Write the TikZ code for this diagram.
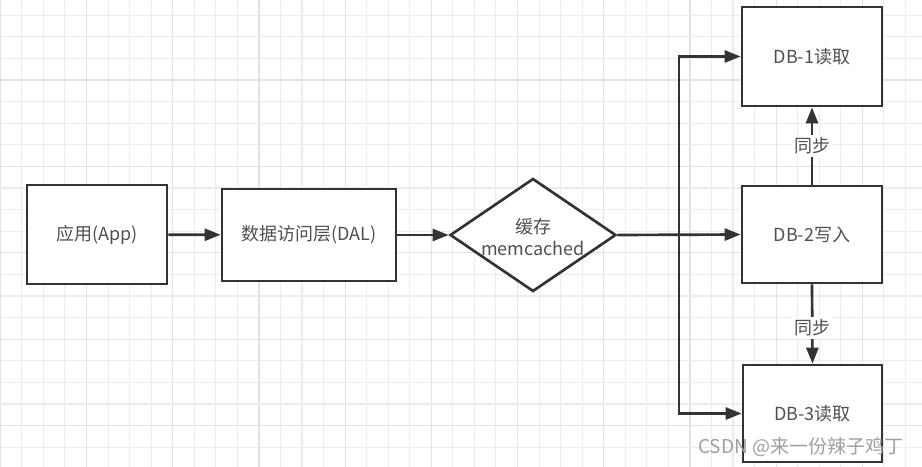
\documentclass[tikz,border=0pt]{standalone}
\usepackage{fontspec}
\setmainfont{Noto Sans CJK SC}
\usetikzlibrary{arrows.meta,shapes.geometric}
\definecolor{linec}{HTML}{333333}
\definecolor{textc}{HTML}{505050}
\definecolor{gridc}{HTML}{ECECEC}
\definecolor{gridm}{HTML}{E2E2E2}
\definecolor{wmc}{HTML}{A0A0A0}
\begin{document}
\begin{tikzpicture}[x=0.75pt,y=-0.75pt,
  txt/.style={text=textc,font=\fontsize{13.5}{17}\selectfont},
  box/.style={draw=linec,line width=2pt,fill=white,inner sep=0pt,txt},
  arr/.style={draw=linec,line width=2pt,-{Triangle[length=12pt,width=9pt]}},
  conn/.style={draw=linec,line width=2pt},
  synclbl/.style={fill=white,inner sep=2pt,txt}]
\useasboundingbox (0,0) rectangle (922,467);
\fill[white] (0,0) rectangle (922,467);
% grid
\foreach \i in {0,...,42} {
  \pgfmathsetmacro{\xx}{0.3+\i*21.55}
  \pgfmathtruncatemacro{\mm}{mod(\i,4)}
  \ifnum\mm=0
    \draw[gridm,line width=0.9pt] (\xx,0) -- (\xx,467);
  \else
    \draw[gridc,line width=0.8pt] (\xx,0) -- (\xx,467);
  \fi
}
\foreach \j in {0,...,21} {
  \pgfmathsetmacro{\yy}{15.2+\j*21.6}
  \pgfmathtruncatemacro{\mm}{mod(\j+1,4)}
  \ifnum\mm=0
    \draw[gridm,line width=0.9pt] (0,\yy) -- (922,\yy);
  \else
    \draw[gridc,line width=0.8pt] (0,\yy) -- (922,\yy);
  \fi
}
% nodes
\node[box,minimum width=105pt,minimum height=74.25pt] (app) at (97,234.5) {应用(App)};
\node[box,minimum width=130.5pt,minimum height=69pt] (dal) at (309,235) {数据访问层(DAL)};
\node[diamond,draw=linec,line width=2pt,fill=white,inner sep=0pt,
      minimum width=124.5pt,minimum height=84.75pt] (dia) at (533,235) {};
\node[txt,align=center,inner sep=0pt] (diatext) at (533,237) {缓存\\memcached};
\node[box,minimum width=105pt,minimum height=74.25pt] (db1) at (812,56.5) {DB-1读取};
\node[box,minimum width=105pt,minimum height=72.75pt] (db2) at (812,234.5) {DB-2写入};
\node[box,minimum width=104.25pt,minimum height=72.75pt] (db3) at (812.5,413.5) {DB-3读取};
\coordinate (j) at (679,235);
% connectors
\draw[arr] (app) -- (dal);
\draw[arr] (dal) -- (dia);
\draw[arr] (dia.east) -- (db2.west);
\draw[arr] (j) |- (db1.west);
\draw[arr] (j) |- (db3.west);
\draw[arr] (db2.north) -- node[synclbl] (s1) {同步} (db1.south);
\draw[arr] (db2.south) -- node[synclbl,pos=0.55] (s2) {同步} (db3.north);
% watermark
\node[text=wmc,font=\fontsize{14.3}{17}\selectfont,inner sep=0pt] (wm) at (801,447) {CSDN @来一份辣子鸡丁};
\end{tikzpicture}
\end{document}
